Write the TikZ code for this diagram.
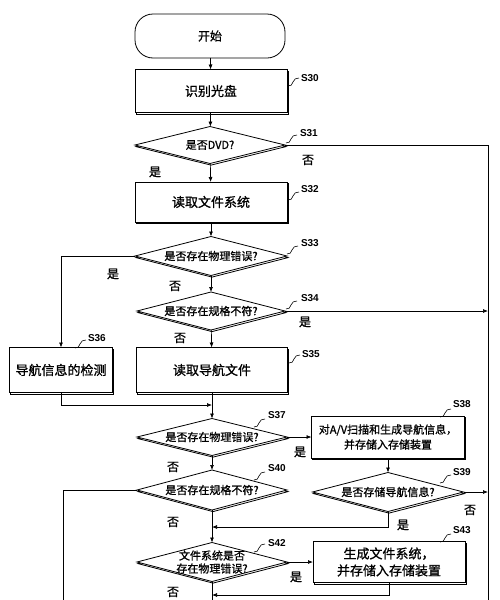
\documentclass[tikz,border=0pt]{standalone}
\usepackage{fontspec}
\setmainfont{Noto Sans CJK SC}[FakeBold=1]
\newfontfamily\labfont{Liberation Sans}
\usetikzlibrary{shapes.geometric,arrows.meta,shadows}
\newcommand\squig[1]{\begin{scope}[shift={#1}]\draw[line width=0.6pt] (0,0) .. controls (3,1) and (4,-2) .. (5,-4) .. controls (6,-7) and (8,-8) .. (11,-8);\end{scope}}
\begin{document}
\begin{tikzpicture}[x=1pt,y=-1pt,
  every node/.style={inner sep=0pt, outer sep=0pt},
  shad/.style={copy shadow={shadow xshift=1pt, shadow yshift=-1.6pt}},
  box/.style={draw, line width=0.8pt, fill=white, shad, font=\fontsize{13}{16}\selectfont, align=center},
  dia/.style={draw, diamond, line width=0.8pt, fill=white, shad},
  dtxt/.style={font=\fontsize{11}{13}\selectfont, align=center},
  yn/.style={font=\fontsize{12}{14}\selectfont},
  slab/.style={font=\labfont\bfseries\fontsize{10}{12}\selectfont, anchor=west},
  arr/.style={-{Latex[length=5pt,width=4pt]}, line width=0.7pt},
  ln/.style={line width=0.7pt}]
\useasboundingbox (0,0) rectangle (500,600);

% nodes
\node[draw, line width=0.8pt, rounded corners=18pt, minimum width=150pt, minimum height=44pt, font=\fontsize{12}{14}\selectfont] (start) at (210,36) {开始};
\node[box, minimum width=152pt, minimum height=43pt] (s30) at (211,91) {识别光盘};
\node[dia, minimum width=150pt, minimum height=37pt] (s31) at (210,145) {};
\node[dtxt] (t31) at (s31) {是否DVD?};
\node[box, minimum width=152pt, minimum height=40pt] (s32) at (211,202) {读取文件系统};
\node[dia, minimum width=152pt, minimum height=39pt] (s33) at (211,256) {};
\node[dtxt] (t33) at (s33) {是否存在物理错误?};
\node[dia, minimum width=148pt, minimum height=38pt] (s34) at (211,311) {};
\node[dtxt] (t34) at (s34) {是否存在规格不符?};
\node[box, minimum width=103pt, minimum height=45pt] (s36) at (61,370) {导航信息的检测};
\node[box, minimum width=151pt, minimum height=45pt] (s35) at (212,370) {读取导航文件};
\node[dia, minimum width=150pt, minimum height=37pt] (s37) at (212,437) {};
\node[dtxt] (t37) at (s37) {是否存在物理错误?};
\node[box, minimum width=153pt, minimum height=42pt, font=\fontsize{11}{15}\selectfont] (s38) at (388,437) {对A/V扫描和生成导航信息，\\并存储入存储装置};
\node[dia, minimum width=150pt, minimum height=40pt] (s40) at (212,490) {};
\node[dtxt] (t40) at (s40) {是否存在规格不符?};
\node[dia, minimum width=151pt, minimum height=39pt] (s39) at (388,492) {};
\node[dtxt] (t39) at (s39) {是否存储导航信息?};
\node[dia, minimum width=150pt, minimum height=39pt] (s42) at (212,562) {};
\node[dtxt] (t42) at (s42) {文件系统是否\\存在物理错误?};
\node[box, minimum width=152pt, minimum height=41pt, font=\fontsize{13}{17}\selectfont] (s43) at (389,562) {生成文件系统，\\并存储入存储装置};

% helper coordinates
\coordinate (r31) at (488,145);
\coordinate (rbot) at (488,600);
\coordinate (r34) at (488,311);
\coordinate (r39) at (488,492);
\coordinate (j36) at (212,405);
\coordinate (j39) at (212,527);
\coordinate (j43) at (212,595);
\coordinate (l40) at (63,490);
\coordinate (lbot) at (63,600);
\coordinate (mbot) at (212,600);

% connectors
\draw[arr] (start) -- (s30);
\draw[arr] (s30) -- (s31);
\draw[arr] (s31) -- (s32);
\draw[ln] (s31.east) -- (r31) -- (rbot);
\draw[arr] (s32) -- (s33);
\draw[arr] (s33) -- (s34);
\draw[arr] (s33.west) -| (s36.north);
\draw[arr] (s34.east) -- (r34);
\draw[arr] (s34) -- (s35);
\draw[arr] (s36.south) |- (j36);
\draw[arr] (s35) -- (s37);
\draw[arr] (s37.east) -- (s38.west);
\draw[arr] (s37) -- (s40);
\draw[arr] (s38) -- (s39);
\draw[arr] (s39.east) -- (r39);
\draw[arr] (s39.south) |- (j39);
\draw[arr] (s40) -- (s42);
\draw[ln] (s40.west) -- (l40) -- (lbot);
\draw[arr] (s42.east) -- (s43.west);
\draw[arr] (s43.south) |- (j43);
\draw[ln] (s42.south) -- (mbot);

% yes/no labels
\node[yn] (y1) at (308,160) {否};
\node[yn] (y2) at (155,172) {是};
\node[yn] (y3) at (113,274) {是};
\node[yn] (y4) at (175,286) {否};
\node[yn] (y5) at (305,322) {是};
\node[yn] (y6) at (180,338) {否};
\node[yn] (y7) at (300,452) {是};
\node[yn] (y8) at (173,467) {否};
\node[yn] (y9) at (173,522) {否};
\node[yn] (y10) at (470,510) {否};
\node[yn] (y11) at (403,525) {是};
\node[yn] (y12) at (296,577) {是};
\node[yn] (y13) at (173,592) {否};

% step labels
\squig{(288,86)}   \node[slab] (l30) at (301,78) {S30};
\squig{(286,143)}  \node[slab] (l31) at (300,133) {S31};
\squig{(288,200)}  \node[slab] (l32) at (301,189) {S32};
\squig{(287,254)}  \node[slab] (l33) at (301,243) {S33};
\squig{(286,309)}  \node[slab] (l34) at (301,298) {S34};
\squig{(289,363)}  \node[slab] (l35) at (302,354) {S35};
\squig{(75,348)}   \node[slab] (l36) at (88,338) {S36};
\squig{(254,427)}  \node[slab] (l37) at (268,415) {S37};
\squig{(440,417)}  \node[slab] (l38) at (453,404) {S38};
\squig{(440,483)}  \node[slab] (l39) at (453,472) {S39};
\squig{(254,480)}  \node[slab] (l40) at (268,468) {S40};
\squig{(254,552)}  \node[slab] (l42) at (268,543) {S42};
\squig{(440,542)}  \node[slab] (l43) at (453,530) {S43};
\end{tikzpicture}
\end{document}
